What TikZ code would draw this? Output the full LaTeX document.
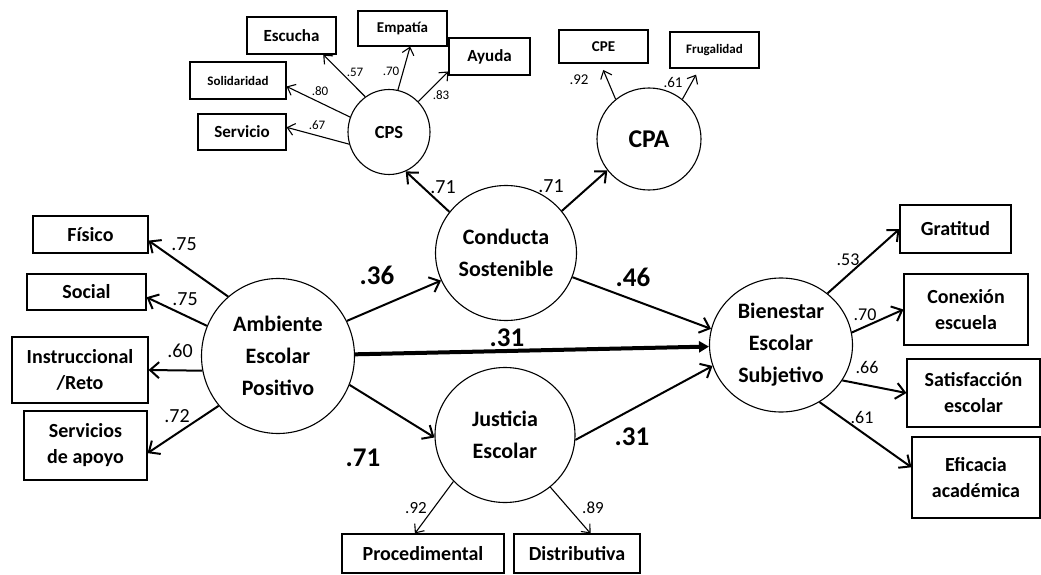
\documentclass[tikz,border=0pt]{standalone}
\usepackage{fontspec}
\setmainfont{Carlito}
\usetikzlibrary{arrows.meta}
\usetikzlibrary{shapes.geometric}

% latent variables are ellipses, indicators are boxes
\tikzset{
	lat/.style={ellipse, draw, line width=1.1pt, inner sep=0pt, align=center,
		font=\fontsize{22}{32}\selectfont\bfseries},
	obs/.style={rectangle, draw, line width=1.1pt, inner sep=0pt, align=center,
		font=\fontsize{20}{26}\selectfont\bfseries},
	ind/.style={line width=2pt, -{Straight Barb[length=9pt,width=16pt]}},
	indthin/.style={line width=1.1pt, -{Straight Barb[length=7pt,width=12pt]}},
	reg/.style={line width=2pt, -{Straight Barb[length=9pt,width=16pt]}},
	coef/.style={inner sep=0pt, font=\fontsize{27}{30}\selectfont\bfseries},
	wt/.style={inner sep=0pt, font=\fontsize{20}{22}\selectfont},
}

\begin{document}
\begin{tikzpicture}[x=1pt,y=-1pt]
	
	\useasboundingbox (0,0) rectangle (1041,575);
	
	% latent variables
	\node[lat, minimum width=153pt, minimum height=155pt] (AEP) at (278,356) {Ambiente\\Escolar\\Positivo};
	\node[lat, minimum width=141pt, minimum height=135pt] (CS) at (506,253) {Conducta\\Sostenible};
	\node[lat, minimum width=140pt, minimum height=135pt] (JE) at (505,435) {Justicia\\Escolar};
	\node[lat, minimum width=143pt, minimum height=134pt] (BES) at (781,345) {Bienestar\\Escolar\\Subjetivo};
	\node[lat, minimum width=82pt, minimum height=85pt, font=\fontsize{18.5}{20}\selectfont\bfseries] (CPS) at (389,132) {CPS};
	\node[lat, minimum width=104pt, minimum height=102pt, font=\fontsize{25.6}{28}\selectfont\bfseries] (CPA) at (649,139) {CPA};
	
	% indicators of Ambiente Escolar Positivo
	\node[obs, minimum width=115pt, minimum height=37pt] (fis) at (90.5,234.5) {Físico};
	\node[obs, minimum width=119pt, minimum height=36pt] (soc) at (86.5,292) {Social};
	\node[obs, minimum width=136pt, minimum height=66pt] (ins) at (80,370) {Instruccional\\/Reto};
	\node[obs, minimum width=123pt, minimum height=69pt] (sap) at (85.5,445.5) {Servicios\\de apoyo};
	
	% indicators of CPS
	\node[obs, minimum width=89pt, minimum height=37pt, font=\fontsize{17}{20}\selectfont\bfseries] (esc) at (291.5,35.5) {Escucha};
	\node[obs, minimum width=89pt, minimum height=35pt, font=\fontsize{15}{18}\selectfont\bfseries] (emp) at (402.5,28.5) {Empatía};
	\node[obs, minimum width=81pt, minimum height=37pt, font=\fontsize{17}{20}\selectfont\bfseries] (ayu) at (489.5,56.5) {Ayuda};
	\node[obs, minimum width=96pt, minimum height=37pt, font=\fontsize{13}{16}\selectfont\bfseries] (sol) at (238,80.5) {Solidaridad};
	\node[obs, minimum width=88pt, minimum height=36pt, font=\fontsize{17}{20}\selectfont\bfseries] (ser) at (242,132) {Servicio};
	
	% indicators of CPA
	\node[obs, minimum width=89pt, minimum height=33pt, font=\fontsize{15}{18}\selectfont\bfseries] (cpe) at (603.5,46.5) {CPE};
	\node[obs, minimum width=89pt, minimum height=36pt, font=\fontsize{13}{16}\selectfont\bfseries] (fru) at (714.5,50) {Frugalidad};
	
	% indicators of Justicia Escolar
	\node[obs, minimum width=162pt, minimum height=39pt] (pro) at (423,553.5) {Procedimental};
	\node[obs, minimum width=126pt, minimum height=39pt] (dis) at (577,553.5) {Distributiva};
	
	% indicators of Bienestar Escolar Subjetivo
	\node[obs, minimum width=111pt, minimum height=48pt] (gra) at (955.5,229) {Gratitud};
	\node[obs, minimum width=124pt, minimum height=71pt] (con) at (966,309.5) {Conexión\\escuela};
	\node[obs, minimum width=133pt, minimum height=68pt] (sat) at (973.5,393) {Satisfacción\\escolar};
	\node[obs, minimum width=128pt, minimum height=81pt] (efi) at (976,477.5) {Eficacia\\académica};
	
	% structural paths
	\draw[reg] (AEP.27) -- (CS.203);
	\draw[reg] (AEP.-22.5) -- (JE.182);
	\draw[reg] (CS.-20) -- (BES.167);
	\draw[reg] (JE.-4) -- (BES.197);
	\draw[line width=4pt, -{Triangle[length=10pt,width=11pt]}] (AEP) -- (BES);
	\draw[reg] (CS.144) -- (CPS.-67);
	\draw[reg] (CS.37) -- (CPA.217);
	
	% loadings
	\draw[ind] (AEP.130) -- (fis.-6);
	\draw[ind] (AEP.157) -- (soc.-5);
	\draw[ind] (AEP.191) -- (ins.east);
	\draw[ind] (AEP.220) -- (sap.-7);
	
	\draw[indthin] (CPS.197) -- (ser.6);
	\draw[indthin] (CPS.159) -- (sol.-7);
	\draw[indthin] (CPS.124) -- (esc.-31);
	\draw[indthin] (CPS.78) -- (emp.-67);
	\draw[indthin] (CPS.46) -- (ayu.200);
	
	\draw[indthin, shorten >=7pt] (CPA.130) -- (cpe.-100);
	\draw[indthin, shorten >=7pt] (CPA.50) -- (fru.-129);
	
	\draw[indthin] (JE.222) -- (pro.112);
	\draw[indthin] (JE.311) -- (dis.56);
	
	\draw[ind] (BES.48) -- (gra.west);
	\draw[ind] (BES.10) -- (con.west);
	\draw[ind] (BES.-30) -- (sat.west);
	\draw[ind] (BES.-56) -- (efi.171);
	
	% path coefficients
	\node[coef] (b36) at (377,275) {.36};
	\node[coef] (b31a) at (507,338) {.31};
	\node[coef] (b71) at (363,458) {.71};
	\node[coef] (b46) at (633,277) {.46};
	\node[coef] (b31b) at (632,437) {.31};
	\node[wt] (lcps) at (443,187) {.71};
	\node[wt] (lcpa) at (551,186) {.71};
	
	% loading values
	\node[wt] (lfis) at (184,244) {.75};
	\node[wt] (lsoc) at (185,299) {.75};
	\node[wt] (lins) at (180,351) {.60};
	\node[wt] (lsap) at (177,416) {.72};
	
	\node[wt, font=\fontsize{13}{15}\selectfont] (lser) at (317,125) {.67};
	\node[wt, font=\fontsize{13}{15}\selectfont] (lsol) at (320,91) {.80};
	\node[wt, font=\fontsize{13}{15}\selectfont] (lesc) at (355,72) {.57};
	\node[wt, font=\fontsize{13}{15}\selectfont] (lemp) at (391,71) {.70};
	\node[wt, font=\fontsize{13}{15}\selectfont] (layu) at (441,95) {.83};
	
	\node[wt, font=\fontsize{15}{17}\selectfont] (lcpe) at (579,80) {.92};
	\node[wt, font=\fontsize{15}{17}\selectfont] (lfru) at (673,82) {.61};
	
	\node[wt, font=\fontsize{17}{19}\selectfont] (lpro) at (416,508) {.92};
	\node[wt, font=\fontsize{17}{19}\selectfont] (ldis) at (593,508) {.89};
	
	\node[wt, font=\fontsize{18}{20}\selectfont] (lgra) at (848,260) {.53};
	\node[wt, font=\fontsize{18}{20}\selectfont] (lcon) at (865,315) {.70};
	\node[wt, font=\fontsize{18}{20}\selectfont] (lsat) at (867,367) {.66};
	\node[wt, font=\fontsize{18}{20}\selectfont] (lefi) at (862,417) {.61};
	
\end{tikzpicture}
\end{document}
